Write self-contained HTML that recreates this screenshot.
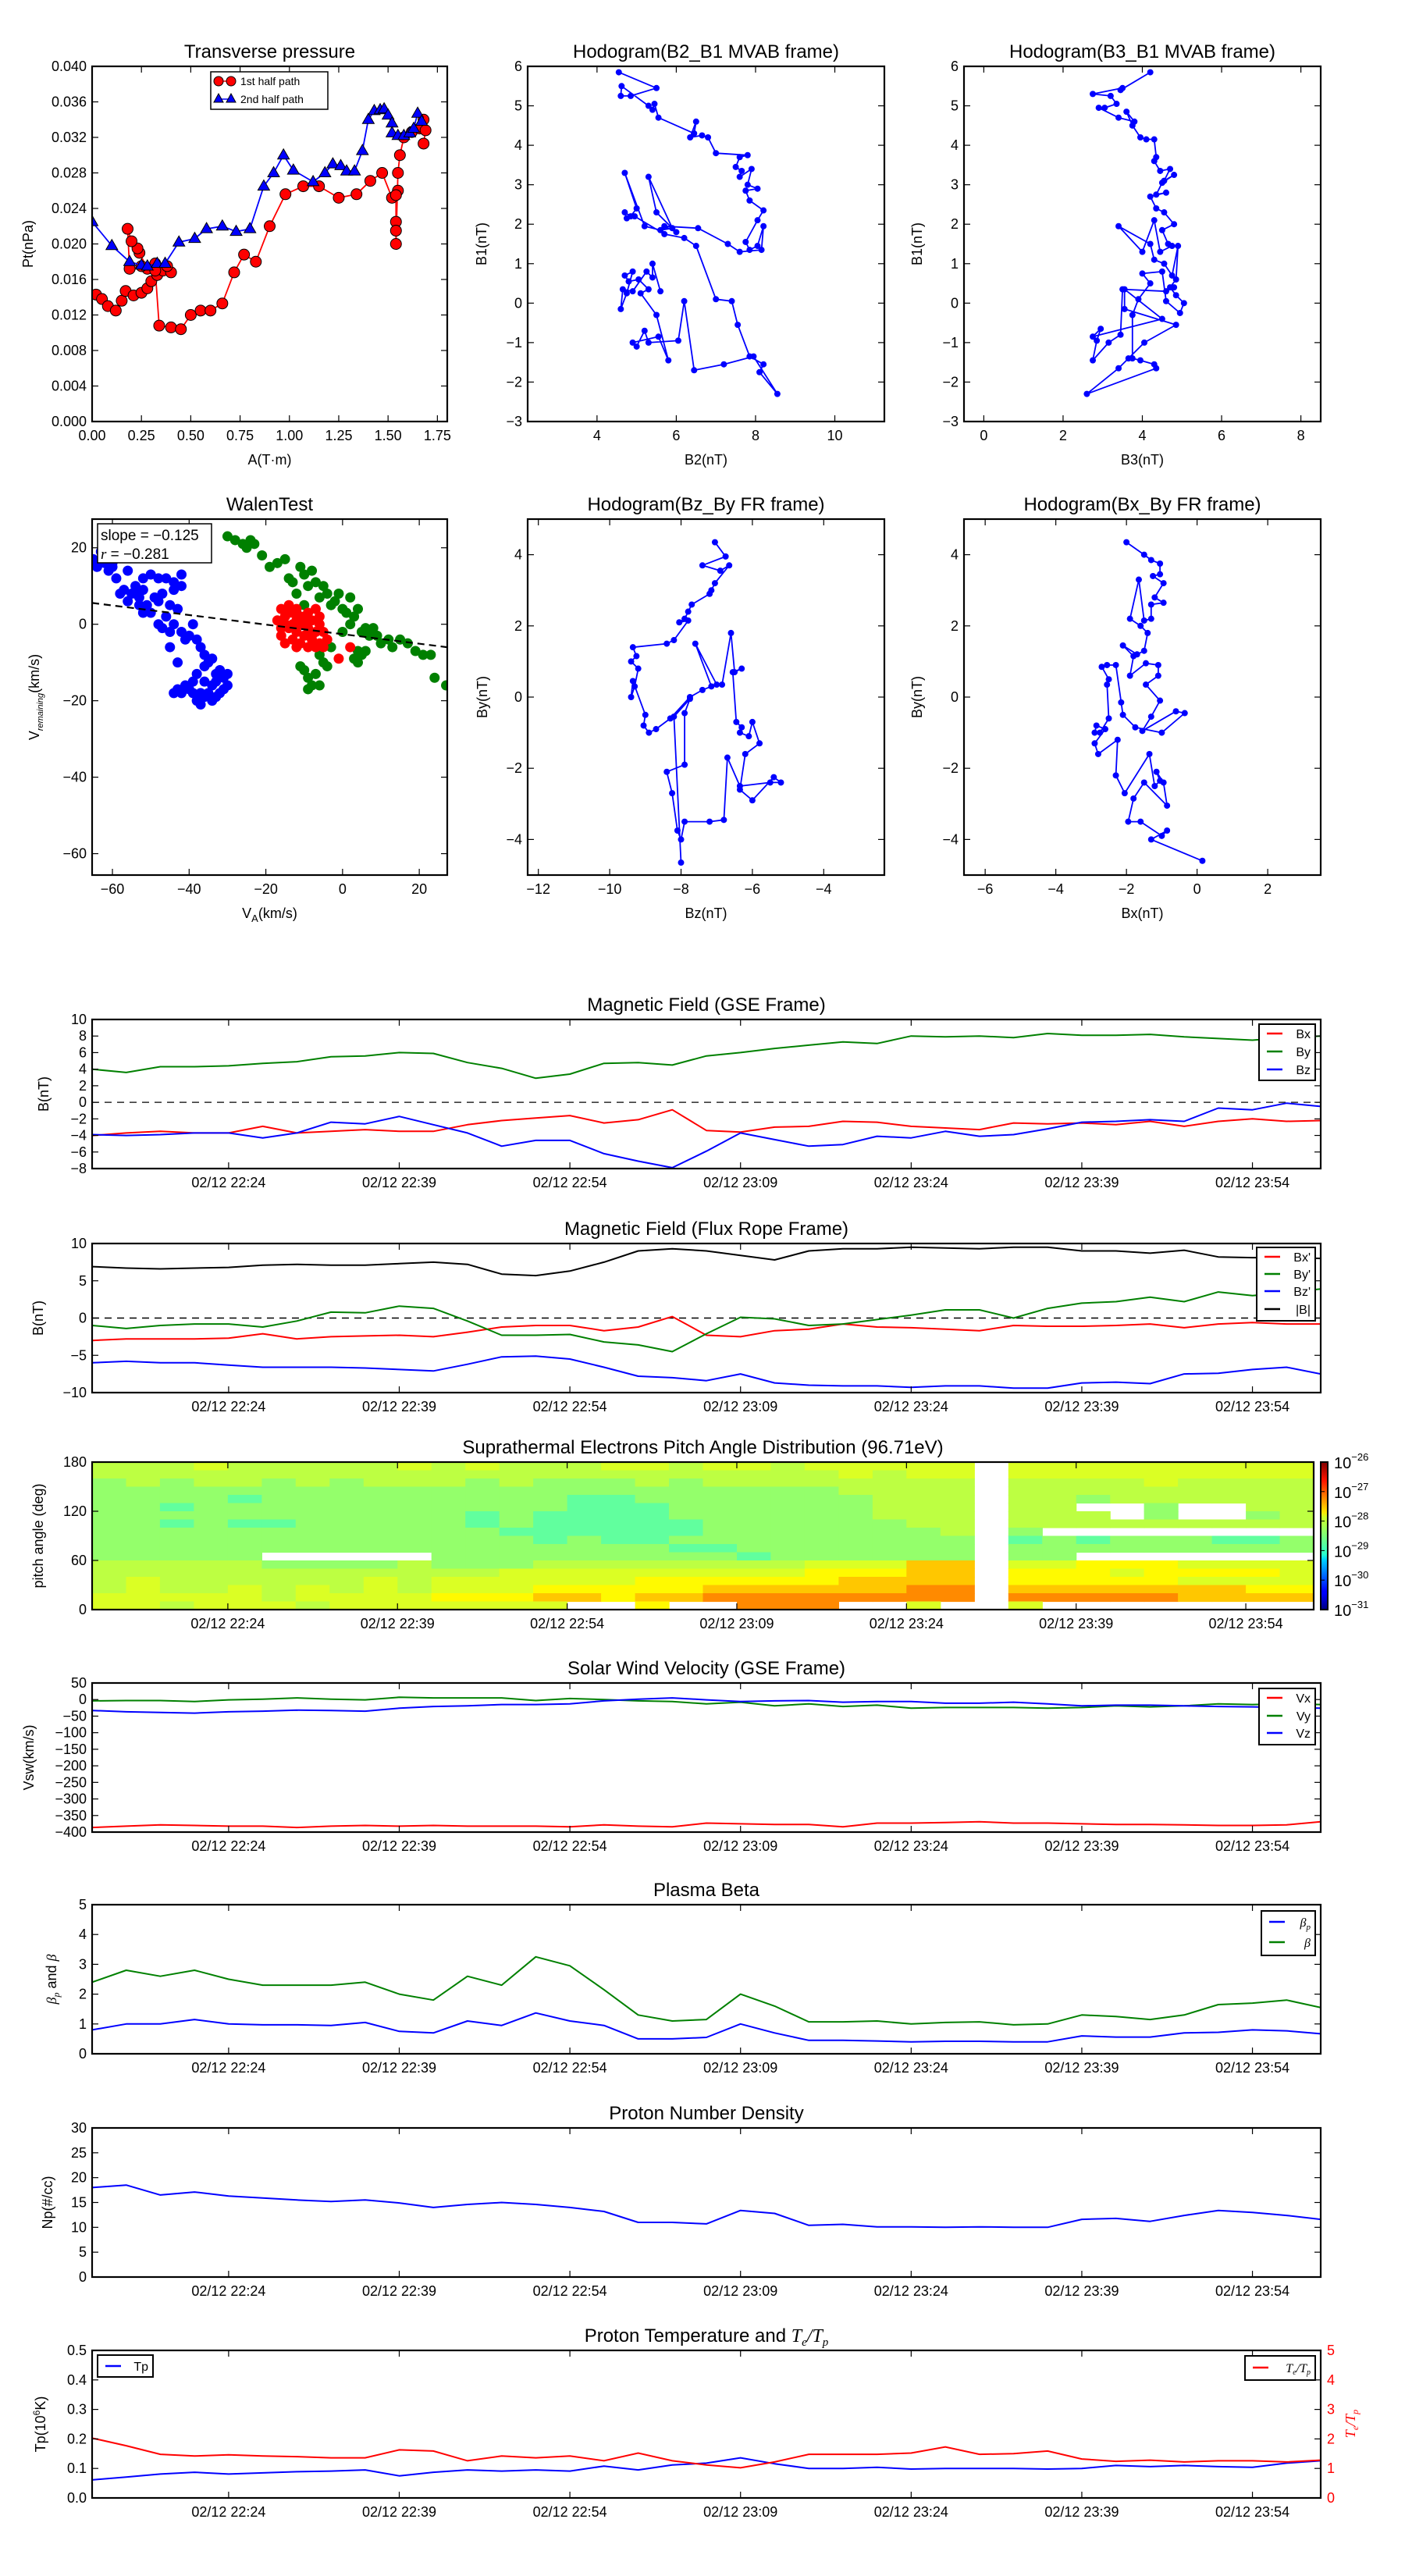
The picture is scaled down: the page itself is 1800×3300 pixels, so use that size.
<!DOCTYPE html>
<html><head><meta charset="utf-8"><title>Flux rope analysis</title>
<style>
html,body{margin:0;padding:0;background:#fff;}
svg{display:block;font-family:"Liberation Sans","DejaVu Sans",sans-serif;}
</style></head>
<body>
<svg id="fig" xmlns="http://www.w3.org/2000/svg" width="1800" height="3300" viewBox="0 0 1800 3300">
<defs>
<linearGradient id="jetgrad" x1="0" y1="1" x2="0" y2="0">
<stop offset="0" stop-color="#00007f"/><stop offset="0.11" stop-color="#0000ff"/><stop offset="0.125" stop-color="#0000ff"/>
<stop offset="0.34" stop-color="#00d4ff"/><stop offset="0.375" stop-color="#29ffce"/><stop offset="0.5" stop-color="#7dff7a"/>
<stop offset="0.625" stop-color="#ceff29"/><stop offset="0.66" stop-color="#ffe600"/><stop offset="0.875" stop-color="#ff1300"/>
<stop offset="1" stop-color="#7f0000"/>
</linearGradient>
</defs>
</svg>
<script>
// ---------- time series data (minutes after 02/12 22:12) ----------
const minutes=[0,3,6,9,12,15,18,21,24,27,30,33,36,39,42,45,48,51,54,57,60,63,66,69,72,75,78,81,84,87,90,93,96,99,102,105,108];
const timeTicks=[12,27,42,57,72,87,102];
const timeTickLabels=["02/12 22:24","02/12 22:39","02/12 22:54","02/12 23:09","02/12 23:24","02/12 23:39","02/12 23:54"];
const gseBx=[-4.0,-3.7,-3.5,-3.7,-3.7,-2.9,-3.7,-3.5,-3.3,-3.5,-3.5,-2.7,-2.2,-1.9,-1.6,-2.5,-2.1,-0.9,-3.4,-3.6,-3.0,-2.9,-2.3,-2.4,-2.9,-3.1,-3.3,-2.5,-2.6,-2.5,-2.7,-2.3,-2.9,-2.3,-2.0,-2.3,-2.2];
const gseBy=[4.0,3.6,4.3,4.3,4.4,4.7,4.9,5.5,5.6,6.0,5.9,4.8,4.1,2.9,3.4,4.7,4.8,4.5,5.6,6.0,6.5,6.9,7.3,7.1,8.0,7.9,8.0,7.8,8.3,8.1,8.1,8.2,7.9,7.7,7.5,7.8,8.0];
const gseBz=[-3.9,-4.0,-3.9,-3.7,-3.7,-4.3,-3.7,-2.4,-2.6,-1.7,-2.7,-3.7,-5.3,-4.6,-4.6,-6.2,-7.1,-7.9,-5.9,-3.7,-4.5,-5.3,-5.1,-4.1,-4.3,-3.5,-4.1,-3.9,-3.2,-2.4,-2.3,-2.1,-2.3,-0.7,-0.9,-0.1,-0.5];
const frBx=[-3.0,-2.8,-2.8,-2.8,-2.7,-2.1,-2.8,-2.5,-2.4,-2.3,-2.5,-1.9,-1.2,-1.0,-1.0,-1.7,-1.2,0.2,-2.3,-2.5,-1.7,-1.5,-0.8,-1.2,-1.3,-1.5,-1.7,-1.0,-1.1,-1.1,-1.0,-0.8,-1.3,-0.8,-0.6,-0.8,-0.8];
const frBy=[-1.0,-1.4,-1.0,-0.8,-0.8,-1.2,-0.4,0.8,0.7,1.6,1.3,-0.4,-2.3,-2.3,-2.2,-3.2,-3.6,-4.5,-2.1,0.1,-0.1,-1.0,-0.8,-0.2,0.4,1.1,1.1,0.0,1.3,2.0,2.2,2.8,2.2,3.5,3.0,3.4,3.9];
const frBz=[-6.0,-5.8,-6.0,-6.0,-6.3,-6.6,-6.6,-6.6,-6.7,-6.9,-7.1,-6.2,-5.2,-5.1,-5.5,-6.6,-7.8,-8.0,-8.4,-7.5,-8.7,-9.0,-9.1,-9.1,-9.3,-9.1,-9.1,-9.4,-9.4,-8.7,-8.6,-8.8,-7.5,-7.4,-6.9,-6.6,-7.5];
const frBt=[6.9,6.7,6.6,6.7,6.8,7.1,7.2,7.1,7.1,7.3,7.5,7.2,5.9,5.7,6.3,7.5,9.0,9.3,9.0,8.4,7.8,9.0,9.3,9.3,9.5,9.4,9.3,9.5,9.5,9.0,9.0,8.7,9.1,8.2,8.1,8.1,8.0];
const vx=[-386,-382,-378,-380,-382,-382,-386,-382,-380,-382,-380,-382,-382,-382,-384,-378,-382,-384,-373,-375,-377,-377,-384,-373,-373,-371,-369,-373,-373,-375,-377,-377,-378,-380,-380,-378,-369];
const vy=[-4,-3,-3,-6,-1,1,5,1,-1,7,5,5,5,-3,3,0,-4,-6,-13,-8,-19,-13,-21,-17,-26,-24,-24,-24,-26,-24,-19,-22,-19,-13,-15,-13,-15];
const vz=[-33,-37,-39,-41,-37,-35,-32,-33,-35,-26,-21,-19,-15,-15,-13,-4,1,5,-1,-6,-4,-3,-8,-6,-6,-11,-11,-8,-13,-19,-17,-17,-19,-21,-22,-24,-26];
const betaP=[0.8,1.0,1.0,1.15,1.0,0.97,0.97,0.95,1.05,0.75,0.7,1.1,0.95,1.37,1.1,0.95,0.5,0.5,0.55,1.0,0.7,0.45,0.45,0.43,0.4,0.42,0.42,0.4,0.4,0.6,0.56,0.56,0.7,0.72,0.8,0.77,0.67];
const betaT=[2.4,2.8,2.6,2.8,2.5,2.3,2.3,2.3,2.4,2.0,1.8,2.6,2.3,3.25,2.95,2.15,1.3,1.1,1.15,2.0,1.6,1.07,1.07,1.1,1.0,1.05,1.07,0.97,1.0,1.3,1.25,1.15,1.3,1.65,1.7,1.8,1.55];
const np=[18.0,18.5,16.5,17.1,16.3,15.9,15.5,15.2,15.5,14.9,14.0,14.6,15.0,14.6,14.0,13.2,11.0,11.0,10.7,13.4,12.8,10.4,10.6,10.1,10.1,10.0,10.1,10.0,10.0,11.6,11.8,11.2,12.4,13.4,13.0,12.4,11.6];
const tp=[0.061,0.071,0.081,0.087,0.081,0.085,0.089,0.091,0.095,0.075,0.087,0.095,0.091,0.095,0.091,0.108,0.095,0.112,0.118,0.136,0.116,0.10,0.10,0.104,0.098,0.10,0.10,0.10,0.098,0.10,0.11,0.106,0.11,0.106,0.104,0.118,0.126];
const teTp=[2.03,1.77,1.48,1.42,1.46,1.42,1.40,1.36,1.36,1.63,1.59,1.26,1.42,1.36,1.42,1.26,1.52,1.26,1.12,1.02,1.22,1.48,1.48,1.48,1.52,1.73,1.48,1.5,1.59,1.32,1.24,1.28,1.22,1.26,1.26,1.22,1.28];
// PAD: each row = 10 deg bin from 180 (top) to 0; each char = 3-min column; '.' = no data
const padRows=[
"44454444454544455455455555.555555555",
"44444444444444444444445455.555555555",
"34344343444343334344444444.444454444",
"33333333333333333333334444.444444444",
"33332333333333223333333444.443444444",
"33233333333333222333333444.44..3..44",
"33333333333232222333333444.444.3..34",
"33232233333232222233333344.444444444",
"33333333333322222233333334.3........",
"33333333333332322333333333.232333223",
"33333333333333333223333333.333333333",
"33333.....3333333332333333.33.......",
"44444333343334444444455577.556665555",
"44444444444455555555566677.666566665",
"45444444545555556666667777.666665555",
"45445454545556666677777788.777777766",
"55555455556667767788888888.888887777",
"55455545555555..6..888..5..5......."
];
const padLevelLog=[-29.1,-28.9,-28.65,-28.4,-28.2,-28.05,-27.85,-27.6,-27.3,-26.9];
const cbarTicks=[-26,-27,-28,-29,-30,-31];
// ---------- transverse pressure ----------
const tpRed=[[0.02,0.0143],[0.05,0.0138],[0.08,0.0130],[0.12,0.0125],[0.15,0.0136],[0.17,0.0147],[0.21,0.0142],[0.25,0.0145],[0.28,0.0150],[0.30,0.0158],[0.33,0.0165],[0.36,0.0170],[0.40,0.0168],[0.38,0.0175],[0.32,0.0178],[0.28,0.0172],[0.24,0.0190],[0.23,0.0195],[0.20,0.0203],[0.18,0.0217],[0.19,0.0172],[0.25,0.0175],[0.32,0.0170],[0.34,0.0108],[0.40,0.0106],[0.45,0.0104],[0.50,0.0120],[0.55,0.0125],[0.60,0.0125],[0.66,0.0133],[0.72,0.0168],[0.77,0.0188],[0.83,0.0180],[0.90,0.0220],[0.98,0.0256],[1.07,0.0265],[1.15,0.0265],[1.25,0.0252],[1.34,0.0256],[1.41,0.0271],[1.47,0.0280],[1.52,0.0252],[1.55,0.0260],[1.54,0.0255],[1.54,0.0225],[1.54,0.0215],[1.54,0.0200],[1.55,0.0280],[1.56,0.0300],[1.58,0.0320],[1.62,0.0326],[1.66,0.0330],[1.68,0.0340],[1.69,0.0328],[1.68,0.0313]];
const tpBlue=[[0.0,0.0225],[0.10,0.0198],[0.19,0.0180],[0.25,0.0176],[0.28,0.0175],[0.33,0.0178],[0.37,0.0178],[0.44,0.0202],[0.52,0.0206],[0.58,0.0217],[0.66,0.0220],[0.73,0.0214],[0.80,0.0217],[0.87,0.0265],[0.92,0.0280],[0.97,0.0300],[1.02,0.0283],[1.12,0.0270],[1.18,0.0280],[1.22,0.0290],[1.26,0.0288],[1.29,0.0282],[1.33,0.0282],[1.37,0.0305],[1.40,0.0340],[1.43,0.0350],[1.46,0.0351],[1.48,0.0352],[1.50,0.0345],[1.52,0.0336],[1.52,0.0325],[1.55,0.0322],[1.58,0.0322],[1.61,0.0325],[1.63,0.0330],[1.65,0.0347],[1.67,0.0338]];
// ---------- hodograms ----------
const hodoB2B1=[[4.55,5.85],[5.5,5.45],[4.85,5.25],[4.6,5.25],[4.62,5.5],[5.3,5.0],[5.4,4.9],[5.45,5.05],[5.55,4.7],[6.45,4.3],[6.5,4.6],[6.35,4.2],[6.65,4.25],[6.8,4.2],[7.0,3.8],[7.8,3.75],[7.6,3.7],[7.5,3.45],[7.65,3.35],[7.6,3.2],[7.9,3.4],[7.8,3.0],[8.05,2.9],[7.75,2.85],[7.85,2.6],[8.2,2.35],[8.05,2.1],[7.75,1.55],[7.85,1.35],[8.05,1.45],[8.2,1.95],[8.15,1.35],[7.6,1.3],[7.3,1.5],[6.55,1.9],[5.7,1.95],[6.0,1.8],[5.5,2.3],[5.3,3.2],[5.9,1.9],[5.6,1.85],[5.2,1.95],[4.7,3.3],[5.0,2.4],[4.85,2.2],[4.7,2.3],[4.75,2.15],[4.95,2.2],[5.7,1.75],[6.2,1.65],[6.5,1.45],[7.0,0.1],[7.4,0.05],[7.55,-0.55],[7.85,-1.35],[8.2,-1.55],[8.1,-1.75],[8.55,-2.3],[7.95,-1.35],[7.2,-1.55],[6.45,-1.7],[6.2,0.05],[6.05,-0.95],[5.3,-1.0],[5.2,-0.7],[5.0,-1.1],[4.9,-1.0],[5.55,-0.85],[5.8,-1.45],[5.5,-0.3],[5.1,0.25],[5.3,0.35],[5.05,0.6],[4.8,0.55],[4.7,0.7],[4.9,0.8],[4.75,0.25],[4.6,-0.15],[4.65,0.35],[4.9,0.3],[5.25,0.8],[5.4,0.65],[5.4,1.0],[5.6,0.3]];
const hodoB3B1=[[4.2,5.85],[3.45,5.4],[3.5,5.45],[2.75,5.3],[3.2,5.25],[3.35,5.05],[3.05,4.95],[2.9,4.95],[3.4,4.7],[3.8,4.6],[3.6,4.85],[3.75,4.5],[3.95,4.2],[4.1,4.15],[4.3,4.15],[4.35,3.7],[4.3,3.6],[4.45,3.35],[4.7,3.4],[4.55,3.1],[4.8,3.25],[4.5,3.05],[4.35,2.75],[4.6,2.8],[4.2,2.7],[4.35,2.4],[4.55,2.3],[4.8,2.0],[4.5,1.85],[4.65,1.5],[4.75,1.45],[4.45,1.3],[4.3,2.1],[4.0,1.3],[3.4,1.95],[4.2,1.5],[4.3,1.1],[4.55,1.0],[4.75,0.7],[4.9,1.45],[4.85,0.6],[4.7,0.4],[4.85,0.2],[5.05,0.0],[4.95,-0.25],[4.6,0.05],[4.5,0.8],[4.0,0.75],[4.2,0.5],[3.9,0.1],[3.75,-0.3],[3.75,-1.4],[3.95,-1.45],[4.3,-1.55],[4.35,-1.65],[2.6,-2.3],[3.4,-1.65],[3.65,-1.4],[4.05,-1.0],[4.85,-0.55],[3.55,-0.15],[3.55,0.35],[4.5,-0.4],[2.75,-0.85],[2.95,-0.65],[2.85,-0.95],[2.75,-1.45],[3.15,-1.0],[3.45,-0.8],[3.5,0.35],[4.6,0.3],[4.8,0.4]];
const hodoBzBy=[[-7.05,4.35],[-6.75,3.95],[-7.4,3.7],[-6.9,3.55],[-6.65,3.7],[-7.05,3.2],[-7.15,3.0],[-7.2,2.9],[-7.7,2.6],[-7.8,2.4],[-7.9,2.2],[-8.05,2.1],[-7.8,2.15],[-8.2,1.6],[-8.4,1.5],[-9.35,1.4],[-9.25,1.15],[-9.4,1.0],[-9.2,0.8],[-9.3,0.3],[-9.4,0.0],[-9.35,0.45],[-9.0,-0.5],[-9.05,-0.8],[-8.9,-1.0],[-8.7,-0.9],[-8.3,-0.6],[-7.75,0.0],[-7.4,0.2],[-7.15,0.3],[-7.6,1.5],[-7.0,0.35],[-6.85,0.35],[-6.6,1.8],[-6.5,0.7],[-6.3,0.8],[-6.55,0.7],[-6.45,-0.7],[-6.3,-0.85],[-6.35,-1.0],[-6.1,-1.1],[-6.0,-0.7],[-5.8,-1.3],[-6.2,-1.6],[-6.35,-2.6],[-6.0,-2.9],[-5.4,-2.25],[-5.2,-2.4],[-5.5,-2.4],[-6.35,-2.5],[-6.7,-1.7],[-6.8,-3.45],[-7.2,-3.5],[-7.9,-3.5],[-8.0,-4.0],[-8.1,-3.75],[-8.25,-2.7],[-8.4,-2.1],[-7.9,-1.9],[-7.9,-0.45],[-7.75,-0.05],[-8.2,-0.55],[-8.0,-4.65]];
const hodoBxBy=[[-2.0,4.35],[-1.5,4.0],[-1.3,3.85],[-1.05,3.75],[-1.05,3.45],[-1.25,3.4],[-0.95,3.2],[-1.2,2.8],[-0.95,2.65],[-1.3,2.6],[-1.3,2.2],[-1.5,2.15],[-1.65,3.3],[-1.9,2.2],[-1.6,2.0],[-1.4,1.8],[-1.5,1.3],[-1.7,1.2],[-2.1,1.45],[-1.8,1.15],[-1.9,0.6],[-1.45,0.95],[-1.1,0.9],[-1.1,0.6],[-1.45,0.35],[-1.05,-0.1],[-1.3,-0.55],[-1.55,-0.95],[-0.6,-0.4],[-0.35,-0.45],[-1.0,-1.0],[-1.75,-0.85],[-2.1,-0.5],[-2.15,-0.15],[-2.3,0.9],[-2.55,0.9],[-2.7,0.85],[-2.5,0.5],[-2.55,0.35],[-2.5,-0.6],[-2.75,-1.0],[-2.9,-1.0],[-2.85,-0.8],[-2.6,-0.9],[-2.9,-1.3],[-2.8,-1.6],[-2.25,-1.2],[-2.3,-2.2],[-2.05,-2.7],[-1.35,-1.6],[-1.2,-2.5],[-1.05,-2.35],[-1.15,-2.1],[-0.95,-2.4],[-0.85,-3.05],[-1.5,-2.4],[-1.8,-2.85],[-1.95,-3.5],[-1.6,-3.5],[-1.0,-3.9],[-0.85,-3.75],[-1.3,-4.0],[0.15,-4.6]];
// ---------- Walen test ----------
const walenBlue=[[-65,17],[-64,15],[-63,19],[-62,16],[-61,14],[-60,15],[-59,12],[-60,16],[-56,14],[-54,10],[-52,12],[-50,13],[-48,12],[-46,12],[-44,11],[-42,10],[-55,8],[-53,7],[-52,9],[-51,5],[-50,3],[-49,7],[-48,6],[-47,8],[-46,2],[-45,5],[-44,0],[-43,4],[-42,-2],[-41,-4],[-40,-3],[-39,0],[-38,-4],[-37,-6],[-36,-8],[-35,-10],[-34,-9],[-33,-13],[-32,-12],[-31,-14],[-30,-13],[-30,-16],[-31,-17],[-33,-15],[-35,-18],[-36,-19],[-37,-18],[-38,-20],[-39,-18],[-40,-17],[-41,-16],[-42,-18],[-43,-17],[-44,-18],[-45,-6],[-43,-10],[-38,-13],[-36,-15],[-34,-16],[-32,-18],[-34,-20],[-37,-21],[-45,-2],[-47,-1],[-53,5],[-54,8],[-57,9],[-58,8],[-56,6],[-52,3],[-48,0],[-42,13],[-44,9],[-36,-11],[-33,-19],[-39,-15]];
const walenGreen=[[-30,23],[-28,22],[-26,21],[-25,20],[-24,22],[-23,21],[-21,18],[-19,15],[-17,16],[-15,17],[-14,12],[-13,11],[-12,8],[-11,15],[-10,13],[-9,10],[-8,14],[-7,11],[-6,7],[-5,10],[-4,8],[-3,5],[-2,6],[-1,8],[0,4],[1,3],[2,7],[3,2],[4,4],[5,-2],[6,-1],[7,-3],[8,-1],[10,-5],[12,-4],[13,-6],[15,-4],[17,-5],[19,-7],[21,-8],[23,-8],[24,-14],[27,-16],[3,-9],[4,-10],[5,-8],[4,-7],[-4,-11],[-5,-10],[-6,-8],[-7,-13],[-8,-16],[-9,-17],[-10,-12],[-11,-11],[-9,-14],[-6,-16],[-12,3],[-10,5],[0,-2],[2,0],[9,-3],[6,-7],[-3,-6]];
const walenRed=[[-16,4],[-15,2],[-14,5],[-13,3],[-12,4],[-11,0],[-10,2],[-9,3],[-8,1],[-7,4],[-6,0],[-5,-2],[-4,-4],[-6,-5],[-8,-4],[-10,-3],[-12,-2],[-14,-1],[-16,-3],[-15,-5],[-13,-4],[-11,-5],[-9,-6],[-7,-2],[-9,-1],[-11,2],[-13,0],[-15,0],[-17,1],[-16,-1],[-12,-6],[-8,-3],[-10,0],[-6,2],[-1,-9],[2,-6],[-14,3],[-12,1],[-7,-6],[-5,-6]];
const walenSlope=-0.125;
const walenIntercept=-2.6;

const NS='http://www.w3.org/2000/svg';
const svg=document.getElementById('fig');
const defs=svg.querySelector('defs');
let clipN=0;
function mk(tag,attrs,parent){const e=document.createElementNS(NS,tag);for(const k in attrs)e.setAttribute(k,attrs[k]);(parent||svg).appendChild(e);return e;}
function fmtNum(v,d){const s=Math.abs(v).toFixed(d);return (v<0?'\u2212':'')+s;}

function makeAxes(c){
  const g=mk('g',{});
  
  
  const sx=v=>c.x+(v-c.xlim[0])/(c.xlim[1]-c.xlim[0])*c.w;
  const sy=v=>c.y+c.h-(v-c.ylim[0])/(c.ylim[1]-c.ylim[0])*c.h;
  const id='clip'+(clipN++);
  const cp=mk('clipPath',{id:id},defs);
  mk('rect',{x:c.x,y:c.y,width:c.w,height:c.h},cp);
  const plot=mk('g',{'clip-path':'url(#'+id+')'},g);
  
  
  return {g,plot,sx,sy,c};
}
function finish(ax){
  const c=ax.c,g=ax.g;
  const fr=mk('rect',{x:c.x,y:c.y,width:c.w,height:c.h,fill:'none',stroke:'#000','stroke-width':2.2},g);
  
  
  c.xticks.forEach((v,i)=>{
    const X=ax.sx(v);
    mk('line',{x1:X,y1:c.y+c.h,x2:X,y2:c.y+c.h-8,stroke:'#000','stroke-width':1.2},g);
    mk('line',{x1:X,y1:c.y,x2:X,y2:c.y+8,stroke:'#000','stroke-width':1.2},g);
    const lab=c.xlabels?c.xlabels[i]:fmtNum(v,c.xdec||0);
    const t=mk('text',{x:X,y:c.y+c.h+24,'font-size':18,'text-anchor':'middle'},g);
    t.textContent=lab;
    
    
  });
  c.yticks.forEach(v=>{
    const Y=ax.sy(v);
    mk('line',{x1:c.x,y1:Y,x2:c.x+8,y2:Y,stroke:'#000','stroke-width':1.2},g);
    if(!c.noRightTicks) mk('line',{x1:c.x+c.w,y1:Y,x2:c.x+c.w-8,y2:Y,stroke:'#000','stroke-width':1.2},g);
    const t=mk('text',{x:c.x-7,y:Y+6,'font-size':18,'text-anchor':'end'},g);
    t.textContent=fmtNum(v,c.ydec||0);
    
    
  });
  const ti=mk('text',{x:c.x+c.w/2,y:c.y-11,'font-size':24,'text-anchor':'middle'},g);
  ti.textContent=c.title;
  
  
  if(c.xlabel){
    const xl=mk('text',{x:c.x+c.w/2,y:c.y+c.h+55,'font-size':18,'text-anchor':'middle'},g);
    xl.innerHTML=c.xlabel;
    
    
  }
  if(c.ylabel){
    const yx=c.ylabx, yy=c.y+c.h/2;
    const yl=mk('text',{x:yx,y:yy,'font-size':18,'text-anchor':'middle',transform:'rotate(-90 '+yx+' '+yy+')'},g);
    yl.innerHTML=c.ylabel;
    
    
  }
}
function polyline(ax,xs,ys,color,w,name,dash){
  const pts=xs.map((x,i)=>ax.sx(x).toFixed(1)+','+ax.sy(ys[i]).toFixed(1)).join(' ');
  const p=mk('polyline',{points:pts,fill:'none',stroke:color,'stroke-width':w,'stroke-linejoin':'round'},ax.plot);
  if(dash)p.setAttribute('stroke-dasharray',dash);
  
  
  return p;
}
function legend(g,x,y,w,h,entries,name){
  const lg=mk('g',{},g);
  
  
  mk('rect',{x:x,y:y,width:w,height:h,fill:'#fff',stroke:'#000','stroke-width':2},lg);
  entries.forEach(e=>{
    mk('line',{x1:x+10,y1:e.y,x2:x+30,y2:e.y,stroke:e.color,'stroke-width':2.5},lg);
    const t=mk('text',{x:x+w-6,y:e.y+6,'font-size':e.fs||16,'text-anchor':'end',fill:e.tcolor||'#000'},lg);
    t.innerHTML=e.label;
    
    
  });
}
const ticksRange=(a,b,s)=>{const r=[];for(let v=a;v<=b+1e-9;v+=s)r.push(+v.toFixed(6));return r;};

// ===== Transverse pressure =====
(function(){
  const ax=makeAxes({name:'transverse-pressure-chart',x:118,y:85,w:455,h:455,xlim:[0,1.8],ylim:[0,0.04],
    xticks:ticksRange(0,1.75,0.25),yticks:ticksRange(0,0.04,0.004),xdec:2,ydec:3,title:'Transverse pressure',
    xlabel:'A(T\u00b7m)',ylabel:'Pt(nPa)',ylabx:42});
  polyline(ax,tpRed.map(p=>p[0]),tpRed.map(p=>p[1]),'#ff0000',1.8,'first-half-path-line');
  tpRed.forEach(p=>{const m=mk('circle',{cx:ax.sx(p[0]),cy:ax.sy(p[1]),r:7,fill:'#ff0000',stroke:'#000','stroke-width':1},ax.plot);
    
    });
  polyline(ax,tpBlue.map(p=>p[0]),tpBlue.map(p=>p[1]),'#0000ff',1.8,'second-half-path-line');
  tpBlue.forEach(p=>{const X=ax.sx(p[0]),Y=ax.sy(p[1]);
    const m=mk('polygon',{points:`${X},${Y-8} ${X-7.5},${Y+5} ${X+7.5},${Y+5}`,fill:'#0000ff',stroke:'#000','stroke-width':1},ax.plot);
    
    });
  finish(ax);
  const lg=mk('g',{},ax.g);
  
  
  mk('rect',{x:270,y:92,width:150,height:48,fill:'#fff',stroke:'#000','stroke-width':1.5},lg);
  mk('line',{x1:276,y1:104,x2:300,y2:104,stroke:'#f00','stroke-width':1.5},lg);
  mk('circle',{cx:280,cy:104,r:6,fill:'#f00',stroke:'#000'},lg);mk('circle',{cx:296,cy:104,r:6,fill:'#f00',stroke:'#000'},lg);
  mk('line',{x1:276,y1:127,x2:300,y2:127,stroke:'#00f','stroke-width':1.5},lg);
  mk('polygon',{points:'280,120 274,131 286,131',fill:'#00f',stroke:'#000'},lg);mk('polygon',{points:'296,120 290,131 302,131',fill:'#00f',stroke:'#000'},lg);
  const t1=mk('text',{x:308,y:109,'font-size':14},lg);t1.textContent='1st half path';
  
  
  const t2=mk('text',{x:308,y:132,'font-size':14},lg);t2.textContent='2nd half path';
  
  
})();

// ===== Hodograms =====
function hodo(name,x,y,xlim,ylim,xticks,yticks,title,xl,yl,ylabx,data){
  const ax=makeAxes({name:name,x:x,y:y,w:457,h:y===85?455:456,xlim:xlim,ylim:ylim,xticks:xticks,yticks:yticks,
    title:title,xlabel:xl,ylabel:yl,ylabx:ylabx});
  polyline(ax,data.map(p=>p[0]),data.map(p=>p[1]),'#0000ff',1.8,name+'-path');
  data.forEach(p=>{const m=mk('circle',{cx:ax.sx(p[0]),cy:ax.sy(p[1]),r:4,fill:'#0000ff'},ax.plot);
    
    });
  finish(ax);
}
hodo('hodogram-b2-b1',676,85,[2.25,11.25],[-3,6],[4,6,8,10],ticksRange(-3,6,1),'Hodogram(B2_B1 MVAB frame)','B2(nT)','B1(nT)',623,hodoB2B1);
hodo('hodogram-b3-b1',1235,85,[-0.5,8.5],[-3,6],[0,2,4,6,8],ticksRange(-3,6,1),'Hodogram(B3_B1 MVAB frame)','B3(nT)','B1(nT)',1181,hodoB3B1);
hodo('hodogram-bz-by',676,665,[-12.3,-2.3],[-5,5],[-12,-10,-8,-6,-4],[-4,-2,0,2,4],'Hodogram(Bz_By FR frame)','Bz(nT)','By(nT)',624,hodoBzBy);
hodo('hodogram-bx-by',1235,665,[-6.6,3.5],[-5,5],[-6,-4,-2,0,2],[-4,-2,0,2,4],'Hodogram(Bx_By FR frame)','Bx(nT)','By(nT)',1181,hodoBxBy);

// ===== Walen test =====
(function(){
  const ax=makeAxes({name:'walen-test-chart',x:118,y:665,w:455,h:456,xlim:[-65.3,27.3],ylim:[-65.6,27.5],
    xticks:[-60,-40,-20,0,20],yticks:[-60,-40,-20,0,20],title:'WalenTest',
    xlabel:'V<tspan font-size="13" dy="5">A</tspan><tspan dy="-5">(km/s)</tspan>',
    ylabel:'V<tspan font-size="11" font-style="italic" dy="5">remaining</tspan><tspan dy="-5">(km/s)</tspan>',ylabx:50});
  const groups=[[walenBlue,'#0000ff','walen-point-blue'],[walenGreen,'#008000','walen-point-green'],[walenRed,'#ff0000','walen-point-red']];
  groups.forEach(gr=>gr[0].forEach(p=>{const m=mk('circle',{cx:ax.sx(p[0]),cy:ax.sy(p[1]),r:6.5,fill:gr[1]},ax.plot);
    
    }));
  const xa=-65.3,xb=27.3;
  polyline(ax,[xa,xb],[walenSlope*xa+walenIntercept,walenSlope*xb+walenIntercept],'#000',2.2,'walen-fit-line','9,6');
  finish(ax);
  const tb=mk('g',{},ax.g);
  
  
  mk('rect',{x:125,y:671,width:146,height:50,fill:'#fff',stroke:'#000','stroke-width':1.5},tb);
  const a=mk('text',{x:129,y:692,'font-size':19},tb);a.textContent='slope = \u22120.125';
  const b=mk('text',{x:129,y:716,'font-size':19},tb);b.innerHTML='<tspan font-style="italic" font-family="Liberation Serif">r</tspan> = \u22120.281';
})();

// ===== Time series panels =====
function timeAxes(name,y,ylim,yticks,title,ylabel,ylabx,w,ydec){
  return makeAxes({name:name,x:118,y:y,w:w||1574,h:191,xlim:[0,108],ylim:ylim,xticks:timeTicks,xlabels:timeTickLabels,
    yticks:yticks,title:title,ylabel:ylabel,ylabx:ylabx,ydec:ydec||0});
}
// Magnetic GSE
(function(){
  const ax=timeAxes('magnetic-field-gse-chart',1306,[-8,10],ticksRange(-8,10,2),'Magnetic Field (GSE Frame)','B(nT)',62);
  polyline(ax,[0,108],[0,0],'#000',1.3,'zero-line','9,7');
  polyline(ax,minutes,gseBx,'#ff0000',2,'series-bx');
  polyline(ax,minutes,gseBy,'#008000',2,'series-by');
  polyline(ax,minutes,gseBz,'#0000ff',2,'series-bz');
  finish(ax);
  legend(ax.g,1613,1312,72,72,[{y:1324,color:'#f00',label:'Bx'},{y:1347,color:'#008000',label:'By'},{y:1370,color:'#00f',label:'Bz'}],'gse-legend');
})();
// Magnetic FR
(function(){
  const ax=timeAxes('magnetic-field-flux-rope-chart',1593,[-10,10],[-10,-5,0,5,10],'Magnetic Field (Flux Rope Frame)','B(nT)',55);
  polyline(ax,[0,108],[0,0],'#000',1.6,'zero-line','9,7');
  polyline(ax,minutes,frBt,'#000',2,'series-btotal');
  polyline(ax,minutes,frBx,'#ff0000',2,'series-bx-prime');
  polyline(ax,minutes,frBy,'#008000',2,'series-by-prime');
  polyline(ax,minutes,frBz,'#0000ff',2,'series-bz-prime');
  finish(ax);
  legend(ax.g,1610,1598,75,94,[{y:1610,color:'#f00',label:"Bx'"},{y:1632,color:'#008000',label:"By'"},{y:1654,color:'#00f',label:"Bz'"},{y:1677,color:'#000',label:'|B|'}],'flux-rope-legend');
})();
// PAD
(function(){
  const ax=makeAxes({name:'pitch-angle-distribution-chart',x:118,y:1873,w:1565,h:189,xlim:[0,108],ylim:[0,180],
    xticks:timeTicks,xlabels:timeTickLabels,yticks:[0,60,120,180],title:'Suprathermal Electrons Pitch Angle Distribution (96.71eV)',
    ylabel:'pitch angle (deg)',ylabx:55});
  const jet=f=>{const cl=v=>Math.max(0,Math.min(1,v));return 'rgb('+[1.5-Math.abs(4*f-3),1.5-Math.abs(4*f-2),1.5-Math.abs(4*f-1)].map(v=>Math.round(cl(v)*255)).join(',')+')';};
  padRows.forEach((row,r)=>{
    for(let c=0;c<row.length;c++){
      const ch=row[c]; if(ch==='.')continue;
      const lg=padLevelLog[+ch];
      const f=(lg+31)/5;
      const x0=ax.sx(c*3),x1=ax.sx(c*3+3),y0=ax.sy(180-r*10),y1=ax.sy(170-r*10);
      const cell=mk('rect',{x:x0.toFixed(1),y:y0.toFixed(1),width:(x1-x0+0.6).toFixed(1),height:(y1-y0+0.6).toFixed(1),fill:jet(f)},ax.plot);
      
      
    }
  });
  finish(ax);
  const cb=mk('g',{});
  
  
  mk('rect',{x:1692,y:1873,width:9,height:189,fill:'url(#jetgrad)',stroke:'#000','stroke-width':2},cb);
  cbarTicks.forEach(e=>{
    const Y=1873+(-26-e)/5*189;
    mk('line',{x1:1692,y1:Y,x2:1697,y2:Y,stroke:'#000'},cb);
    const t=mk('text',{x:1709,y:Y+8,'font-size':20},cb);
    t.innerHTML='10<tspan font-size="13" dy="-10">\u2212'+Math.abs(e)+'</tspan>';
    
    
  });
})();
// Velocity
(function(){
  const ax=timeAxes('solar-wind-velocity-chart',2156,[-400,50],ticksRange(-400,50,50),'Solar Wind Velocity (GSE Frame)','Vsw(km/s)',43);
  polyline(ax,minutes,vx,'#ff0000',2,'series-vx');
  polyline(ax,minutes,vy,'#008000',2,'series-vy');
  polyline(ax,minutes,vz,'#0000ff',2,'series-vz');
  finish(ax);
  legend(ax.g,1613,2163,72,72,[{y:2175,color:'#f00',label:'Vx'},{y:2198,color:'#008000',label:'Vy'},{y:2220,color:'#00f',label:'Vz'}],'velocity-legend');
})();
// Beta
(function(){
  const ax=timeAxes('plasma-beta-chart',2440,[0,5],ticksRange(0,5,1),'Plasma Beta','<tspan font-style="italic" font-family="Liberation Serif">\u03b2<tspan font-size="12" dy="4">p</tspan></tspan><tspan dy="-4"> and </tspan><tspan font-style="italic" font-family="Liberation Serif">\u03b2</tspan>',72);
  polyline(ax,minutes,betaP,'#0000ff',2,'series-beta-p');
  polyline(ax,minutes,betaT,'#008000',2,'series-beta');
  finish(ax);
  legend(ax.g,1616,2448,69,57,[{y:2462,color:'#00f',label:'<tspan font-style="italic" font-family="Liberation Serif">\u03b2<tspan font-size="11" dy="4">p</tspan></tspan>'},{y:2488,color:'#008000',label:'<tspan font-style="italic" font-family="Liberation Serif">\u03b2</tspan>'}],'beta-legend');
})();
// Density
(function(){
  const ax=timeAxes('proton-density-chart',2726,[0,30],ticksRange(0,30,5),'Proton Number Density','Np(#/cc)',67);
  polyline(ax,minutes,np,'#0000ff',2,'series-np');
  finish(ax);
})();
// Temperature
(function(){
  const ax=makeAxes({name:'proton-temperature-chart',x:118,y:3011,w:1574,h:189,xlim:[0,108],ylim:[0,0.5],xticks:timeTicks,xlabels:timeTickLabels,
    yticks:ticksRange(0,0.5,0.1),ydec:1,noRightTicks:true,title:'Proton Temperature and ',
    ylabel:'Tp(10<tspan font-size="12" dy="-7">6</tspan><tspan dy="7">K)</tspan>',ylabx:58});
  const syR=v=>3011+189-v/5*189;
  polyline(ax,minutes,tp,'#0000ff',2,'series-tp');
  const pts=minutes.map((m,i)=>ax.sx(m).toFixed(1)+','+syR(teTp[i]).toFixed(1)).join(' ');
  const rl=mk('polyline',{points:pts,fill:'none',stroke:'#ff0000','stroke-width':2},ax.plot);
  
  
  finish(ax);
  const ttl=ax.g.querySelector('text[font-size="24"]');
  ttl.innerHTML='Proton Temperature and <tspan font-style="italic" font-family="Liberation Serif">T<tspan font-size="15" dy="5">e</tspan><tspan dy="-5">/T</tspan><tspan font-size="15" dy="5">p</tspan></tspan>';
  [0,1,2,3,4,5].forEach(v=>{
    const Y=syR(v);
    mk('line',{x1:1692,y1:Y,x2:1684,y2:Y,stroke:'#000','stroke-width':1.2},ax.g);
    const t=mk('text',{x:1700,y:Y+6,'font-size':18,fill:'#ff0000'},ax.g);
    t.textContent=String(v);
    
    
  });
  const ry=mk('text',{x:1736,y:3105,'font-size':18,fill:'#ff0000','text-anchor':'middle','font-style':'italic','font-family':'Liberation Serif',transform:'rotate(-90 1736 3105)'},ax.g);
  ry.innerHTML='T<tspan font-size="12" dy="4">e</tspan><tspan dy="-4">/T</tspan><tspan font-size="12" dy="4">p</tspan>';
  
  
  legend(ax.g,125,3017,71,28,[{y:3031,color:'#00f',label:'Tp'}],'tp-legend');
  legend(ax.g,1595,3018,90,31,[{y:3033,color:'#f00',label:'<tspan font-style="italic" font-family="Liberation Serif">T<tspan font-size="10" dy="3">e</tspan><tspan dy="-3">/T</tspan><tspan font-size="10" dy="3">p</tspan></tspan>'}],'te-tp-legend');
})();
</script>
</body></html>
